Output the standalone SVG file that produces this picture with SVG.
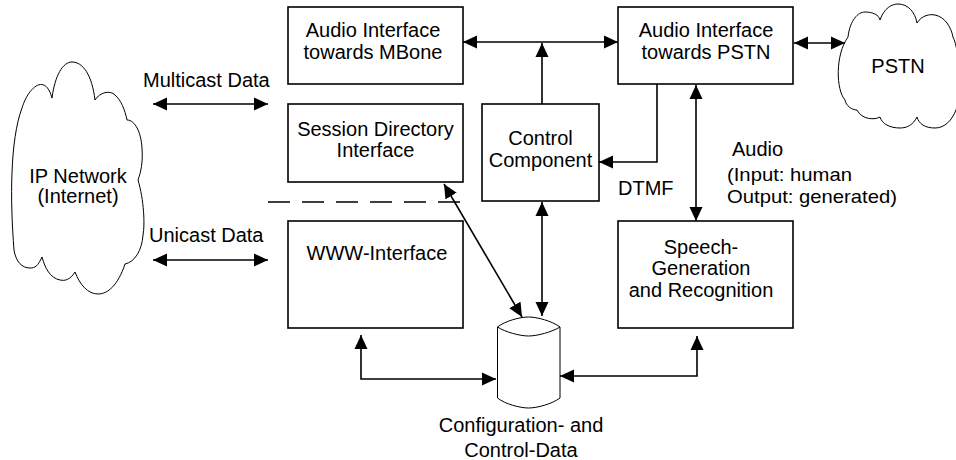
<svg xmlns="http://www.w3.org/2000/svg" width="956" height="460" viewBox="0 0 956 460">
  <style>
    .box { fill: #fff; stroke: #000; stroke-width: 1.6; }
    .cloud { fill: #fff; stroke: #000; stroke-width: 1; }
    .link { fill: none; stroke: #000; stroke-width: 1.6; }
    .dash { fill: none; stroke: #000; stroke-width: 1.4; stroke-dasharray: 22 12; }
    text { font-family: "Liberation Sans", Arial, sans-serif; font-size: 20px; fill: #000; }
    .c { text-anchor: middle; }
    .note { font-size: 19px; }
  </style>
  <defs>
    <marker id="ah" markerUnits="userSpaceOnUse" markerWidth="14" markerHeight="14" viewBox="0 0 14 14" refX="14" refY="7" orient="auto-start-reverse">
      <path d="M0,0.5 L14,7 L0,13.5 Z" fill="#000"/>
    </marker>
  </defs>

  <rect width="956" height="460" fill="#fff"/>

  <!-- IP network cloud -->
  <g id="ip-network">
    <path class="cloud" d="M14,250 C10,200 10,140 22,108 C28,88 45,72 52,98 C55,75 63,62 72,62 C83,62 92,75 95,100 C100,92 110,90 115,95 C121,100 125,110 127,120 C135,120 141,132 142,148 C143,162 141,172 138,180 C144,200 145,225 143,235 C142,250 135,262 125,264 C118,285 108,294 98,294 C88,294 80,285 75,272 C70,280 65,281 60,280 C50,278 45,268 42,257 C38,266 35,268 30,268 C22,268 16,262 14,250 Z"/>
    <text class="c" x="78" y="183">IP Network</text>
    <text class="c" x="78" y="203">(Internet)</text>
  </g>

  <!-- PSTN cloud -->
  <g id="pstn">
    <path class="cloud" d="M845,100 C836,90 835,55 848,37 C850,20 858,12 865,12 C873,12 879,15 880,20 C884,8 892,4 898,4 C908,4 915,12 917,23 C922,15 930,14 935,15 C945,17 951,27 953,37 C960,50 962,100 956,110 C952,120 945,128 935,128 C925,128 919,124 917,117 C913,125 907,128 900,128 C890,128 882,124 880,117 C875,120 862,120 857,110 C852,110 846,106 845,100 Z"/>
    <text class="c" x="898" y="73">PSTN</text>
  </g>

  <g id="audio-mbone">
    <rect class="box" x="288" y="7" width="175" height="77"/>
    <text class="c" x="373" y="37">Audio Interface</text>
    <text class="c" x="373" y="59">towards MBone</text>
  </g>

  <g id="audio-pstn">
    <rect class="box" x="618" y="7" width="175" height="77"/>
    <text class="c" x="706" y="37">Audio Interface</text>
    <text class="c" x="706" y="59">towards PSTN</text>
  </g>

  <g id="session-directory">
    <rect class="box" x="288" y="104" width="175" height="78"/>
    <text class="c" x="375.5" y="136">Session Directory</text>
    <text class="c" x="375.5" y="157">Interface</text>
  </g>

  <g id="control">
    <rect class="box" x="482" y="104" width="117" height="97"/>
    <text class="c" x="540.5" y="145">Control</text>
    <text class="c" x="540.5" y="167">Component</text>
  </g>

  <g id="www">
    <rect class="box" x="288" y="221" width="175" height="107"/>
    <text class="c" x="377" y="260">WWW-Interface</text>
  </g>

  <g id="speech">
    <rect class="box" x="618" y="221" width="175" height="107"/>
    <text class="c" x="701" y="254">Speech-</text>
    <text class="c" x="701" y="275">Generation</text>
    <text class="c" x="701" y="297">and Recognition</text>
  </g>

  <!-- configuration database -->
  <g id="config-data">
    <path class="cloud" d="M497.5,327 C505,321 520,317 528.5,317 C537,317 552,321 560,327 L560,398 C552,404 537,408 528.5,408 C520,408 505,404 497.5,398 Z"/>
    <path class="cloud" d="M497.5,327 C505,332 520,336 528.5,336 C537,336 552,332 560,327"/>
    <text class="c" x="521" y="432">Configuration- and</text>
    <text class="c" x="521" y="457">Control-Data</text>
  </g>

  <g id="connectors">
    <line class="link" x1="153" y1="104" x2="268" y2="104" marker-start="url(#ah)" marker-end="url(#ah)"/>
    <line class="link" x1="153" y1="260" x2="268" y2="260" marker-start="url(#ah)" marker-end="url(#ah)"/>
    <line class="dash" x1="268" y1="202" x2="463" y2="202"/>
    <line class="link" x1="463" y1="42" x2="618" y2="42" marker-start="url(#ah)" marker-end="url(#ah)"/>
    <line class="link" x1="542" y1="104" x2="542" y2="43" marker-end="url(#ah)"/>
    <polyline class="link" points="657,84 657,162 599,162" marker-end="url(#ah)"/>
    <line class="link" x1="696" y1="85" x2="696" y2="221" marker-start="url(#ah)" marker-end="url(#ah)"/>
    <line class="link" x1="794" y1="43" x2="845" y2="43" marker-start="url(#ah)" marker-end="url(#ah)"/>
    <line class="link" x1="542" y1="202" x2="542" y2="316" marker-start="url(#ah)" marker-end="url(#ah)"/>
    <line class="link" x1="444" y1="184" x2="522" y2="317" marker-start="url(#ah)" marker-end="url(#ah)"/>
    <polyline class="link" points="361,335 361,379 496,379" marker-start="url(#ah)" marker-end="url(#ah)"/>
    <polyline class="link" points="560,376 697,376 697,336" marker-start="url(#ah)" marker-end="url(#ah)"/>
    <text x="143" y="87">Multicast Data</text>
    <text x="149" y="242">Unicast Data</text>
    <text x="618" y="195">DTMF</text>
    <text x="732" y="156">Audio</text>
    <text class="note" x="727" y="181" textLength="125" lengthAdjust="spacingAndGlyphs">(Input: human</text>
    <text class="note" x="727" y="203" textLength="170" lengthAdjust="spacingAndGlyphs">Output: generated)</text>
  </g>
</svg>
